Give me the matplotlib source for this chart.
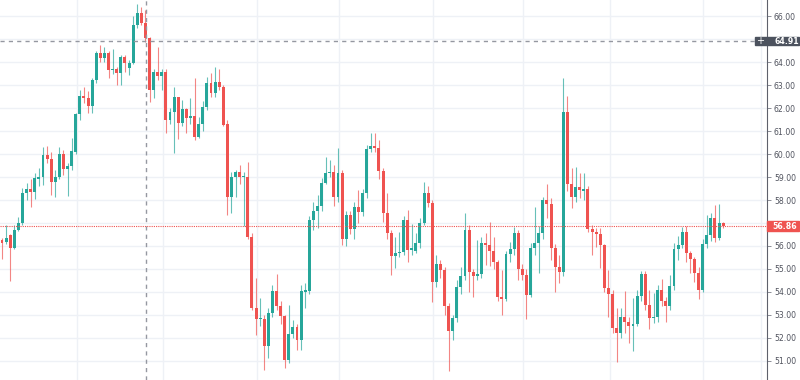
import matplotlib
matplotlib.use("Agg")
import matplotlib.pyplot as plt
from matplotlib.patches import Rectangle
import numpy as np

# OHLC values, one entry per candle (left to right)
opens = [56.26, 56.17, 56.46, 55.90, 56.70, 57.01, 58.29, 58.46, 58.33, 58.90,
         59.00, 59.96, 59.80, 58.80, 59.00, 59.99, 59.33, 59.48, 60.10, 61.72,
         62.52, 62.42, 62.09, 63.22, 64.41, 64.16, 64.41, 63.65, 63.72, 63.51,
         64.23, 63.75, 63.97, 65.61, 66.12, 65.71, 65.03, 62.78, 63.58, 63.39,
         63.58, 61.48, 61.84, 62.46, 61.36, 61.94, 61.55, 61.67, 60.72, 61.30,
         62.06, 63.10, 62.64, 63.14, 62.93, 61.30, 58.12, 58.99, 59.20, 58.99,
         59.02, 56.38, 53.32, 52.81, 52.81, 51.65, 53.07, 54.06, 53.39, 52.96,
         51.02, 52.17, 52.46, 51.89, 54.00, 54.06, 57.13, 57.54, 57.74, 58.72,
         59.16, 59.23, 58.12, 59.16, 56.29, 57.35, 56.72, 57.68, 57.49, 58.29,
         60.22, 60.36, 60.27, 59.28, 57.42, 56.55, 55.57, 55.68, 55.75, 57.13,
         55.83, 55.80, 56.12, 56.99, 58.29, 57.86, 54.45, 55.20, 54.96, 53.41,
         52.28, 52.86, 54.20, 54.71, 56.70, 54.88, 54.70, 54.77, 56.11, 56.05,
         55.80, 55.32, 53.80, 53.71, 55.65, 55.85, 56.58, 54.99, 54.74, 53.87,
         55.93, 56.12, 56.58, 58.00, 57.83, 55.90, 55.07, 54.85, 61.81, 58.70,
         58.14, 58.58, 58.40, 58.46, 56.72, 56.62, 56.51, 56.04, 54.16, 53.91,
         52.42, 52.23, 52.90, 52.71, 52.54, 52.60, 53.83, 54.78, 53.43, 52.85,
         52.90, 54.09, 53.62, 53.39, 54.26, 55.85, 56.03, 56.59, 55.71, 55.42,
         54.84, 54.09, 56.07, 56.48, 57.20, 56.36, 56.99]
highs = [56.35, 56.91, 56.50, 56.90, 57.28, 58.51, 58.72, 58.91, 59.16, 59.40,
         60.32, 60.36, 60.10, 59.30, 60.32, 60.17, 59.60, 60.68, 61.80, 62.78,
         62.90, 62.75, 63.30, 64.50, 64.74, 64.64, 64.50, 64.59, 63.80, 64.30,
         64.30, 64.10, 66.00, 66.52, 66.41, 66.26, 65.10, 63.70, 64.67, 63.70,
         63.70, 62.00, 62.90, 62.50, 62.35, 62.00, 62.42, 63.29, 61.60, 62.30,
         63.36, 63.54, 63.80, 63.72, 63.00, 61.50, 59.20, 59.30, 59.52, 59.20,
         59.67, 56.58, 54.59, 53.73, 53.00, 53.30, 54.30, 54.77, 53.60, 53.00,
         53.44, 52.80, 52.60, 54.30, 54.40, 57.30, 57.93, 58.22, 58.94, 59.85,
         59.74, 59.52, 60.25, 59.30, 57.50, 57.50, 57.90, 58.43, 58.50, 60.39,
         60.90, 60.90, 60.61, 59.40, 58.29, 56.70, 56.41, 56.62, 57.30, 57.57,
         56.96, 56.55, 57.20, 58.80, 58.61, 58.00, 55.61, 55.39, 55.10, 53.50,
         53.00, 54.52, 55.10, 57.42, 56.90, 55.00, 56.26, 56.41, 56.55, 57.06,
         56.41, 55.40, 54.96, 55.80, 56.19, 56.84, 56.70, 55.22, 55.00, 56.12,
         57.71, 56.87, 58.12, 58.69, 58.10, 56.10, 55.61, 63.29, 62.52, 59.38,
         59.45, 59.16, 59.16, 58.60, 56.90, 56.80, 56.77, 56.10, 54.96, 54.09,
         53.29, 53.29, 54.02, 52.90, 53.72, 54.10, 54.93, 54.93, 54.09, 53.94,
         54.30, 54.55, 53.80, 54.74, 56.12, 56.44, 56.84, 56.87, 55.80, 55.50,
         55.10, 56.29, 57.35, 57.42, 57.78, 57.83, 57.06]
lows = [55.42, 56.10, 54.48, 55.85, 56.65, 56.90, 58.00, 57.71, 58.03, 58.60,
        58.65, 59.60, 58.22, 58.14, 58.90, 59.10, 58.17, 59.30, 60.00, 61.50,
        62.20, 61.80, 61.80, 63.07, 64.00, 64.00, 63.29, 63.50, 63.00, 63.00,
        63.58, 63.43, 63.90, 65.50, 65.60, 64.88, 62.28, 62.43, 63.20, 62.78,
        60.93, 61.30, 60.03, 60.64, 61.20, 60.90, 61.30, 60.60, 60.68, 61.00,
        61.90, 62.50, 62.46, 62.80, 61.20, 57.35, 57.45, 58.14, 58.70, 56.87,
        56.30, 53.20, 52.13, 52.50, 50.61, 51.12, 52.90, 53.20, 52.60, 50.68,
        50.90, 52.00, 51.48, 51.48, 53.29, 53.90, 56.70, 56.77, 57.50, 58.70,
        59.00, 57.74, 57.90, 56.04, 56.01, 56.50, 56.29, 57.00, 57.30, 58.10,
        60.10, 60.10, 58.90, 57.06, 56.30, 54.74, 55.03, 55.50, 55.60, 55.32,
        55.60, 55.68, 55.90, 56.90, 57.70, 53.58, 54.20, 54.60, 53.00, 50.54,
        51.91, 52.70, 53.90, 54.50, 54.01, 53.80, 54.50, 54.60, 55.17, 55.13,
        55.00, 53.60, 53.00, 53.60, 55.32, 55.60, 54.52, 54.50, 52.81, 53.80,
        55.60, 54.81, 56.30, 57.20, 55.39, 54.00, 54.41, 54.70, 58.40, 57.64,
        57.93, 58.10, 58.00, 56.60, 55.61, 55.97, 55.03, 54.00, 52.93, 52.20,
        50.97, 51.98, 52.20, 51.80, 51.41, 52.50, 53.60, 53.20, 52.38, 52.64,
        52.70, 53.40, 52.71, 53.20, 54.10, 55.39, 55.90, 55.30, 54.81, 54.45,
        53.68, 54.00, 55.90, 56.20, 56.19, 56.26, 56.80]
closes = [56.14, 56.35, 55.90, 56.70, 57.01, 58.29, 58.46, 58.33, 58.94, 59.00,
          59.96, 59.80, 58.80, 59.00, 59.99, 59.33, 59.48, 60.14, 61.72, 62.52,
          62.42, 62.09, 63.22, 64.41, 64.16, 64.41, 63.65, 63.72, 63.51, 64.23,
          63.94, 63.97, 65.61, 66.12, 65.71, 65.03, 62.78, 63.58, 63.39, 63.58,
          61.48, 61.84, 62.46, 61.36, 61.94, 61.55, 61.67, 60.72, 61.30, 62.06,
          63.10, 62.64, 63.14, 62.93, 61.26, 58.12, 58.99, 59.20, 58.99, 59.06,
          56.38, 53.32, 52.81, 52.85, 51.65, 53.07, 54.06, 53.39, 52.96, 51.02,
          52.17, 52.46, 51.89, 54.04, 54.09, 57.13, 57.54, 57.74, 58.72, 59.16,
          59.23, 58.12, 59.16, 56.29, 57.35, 56.72, 57.68, 57.49, 58.29, 60.22,
          60.36, 60.27, 59.28, 57.42, 56.55, 55.57, 55.68, 55.75, 57.13, 55.83,
          55.90, 56.12, 56.99, 58.29, 57.86, 54.45, 55.20, 54.96, 53.41, 52.28,
          52.86, 54.20, 54.71, 56.70, 54.88, 54.70, 54.77, 56.11, 56.05, 55.80,
          55.32, 53.80, 53.71, 55.65, 55.85, 56.58, 54.99, 54.74, 53.87, 55.93,
          56.12, 56.58, 58.00, 57.83, 55.90, 55.07, 54.85, 61.81, 58.70, 58.14,
          58.58, 58.44, 58.46, 56.72, 56.62, 56.51, 56.04, 54.16, 53.91, 52.42,
          52.23, 52.90, 52.71, 52.54, 52.60, 53.83, 54.78, 53.43, 52.85, 52.90,
          54.09, 53.62, 53.39, 54.26, 55.85, 56.03, 56.59, 55.71, 55.42, 54.84,
          54.09, 56.07, 56.48, 57.20, 56.36, 56.99, 56.86]

price_ticks = [51, 52, 53, 54, 55, 56, 57, 58, 59, 60, 61, 62, 63, 64, 65, 66]
time_grid = [18.2, 39.2, 62.3, 82.3, 105.2, 127.2, 148.3, 171.2, 185.3]
crosshair_x = 35.1
crosshair_price = 64.91
last_price = closes[-1]

UP = '#26a69a'
DOWN = '#ef5350'
GRID = '#eef1f6'
TEXT = '#50535e'
Y_MIN, Y_MAX = 50.17, 66.70


def main():
    fig = plt.figure(figsize=(8, 3.8), dpi=100)
    ax = fig.add_axes([0, 0, 767 / 800, 1])

    o = np.array(opens)
    h = np.array(highs)
    l = np.array(lows)
    c = np.array(closes)
    x = np.arange(len(o))
    colors = np.where(c >= o, UP, DOWN)

    # grid
    for p in price_ticks:
        ax.axhline(p, color=GRID, lw=1.0, zorder=0)
    for t in time_grid:
        ax.axvline(t, color=GRID, lw=1.0, zorder=0)

    # wicks and bodies
    ax.vlines(x, l, h, colors=colors, lw=0.8, alpha=0.7, zorder=2)
    bottoms = np.minimum(o, c)
    heights = np.maximum(np.abs(c - o), 0.05)
    ax.bar(x, heights, bottom=bottoms, width=0.72, color=colors,
           edgecolor='none', zorder=3)

    # crosshair
    ax.axhline(crosshair_price, color='#9598a1', lw=1.0, ls=(0, (3, 3)), zorder=4)
    ax.axvline(crosshair_x, color='#9598a1', lw=1.0, ls=(0, (3, 3)), zorder=4)

    # last price line
    ax.axhline(last_price, color=DOWN, lw=0.8, ls=(0, (1, 1)), zorder=4)

    ax.set_xlim(-0.49, 186.7)
    ax.set_ylim(Y_MIN, Y_MAX)

    # labels hidden behind the crosshair / last price boxes are left blank
    hidden = {round(crosshair_price), round(last_price)}
    ax.yaxis.tick_right()
    ax.set_yticks(price_ticks)
    ax.set_yticklabels(["" if p in hidden else f"{p:.2f}" for p in price_ticks])
    ax.tick_params(axis='y', length=3, width=0.6, color='#787b86',
                   labelsize=5.6, labelcolor=TEXT, pad=2)
    ax.set_xticks([])
    for side in ['top', 'left', 'bottom']:
        ax.spines[side].set_visible(False)
    ax.spines['right'].set_color('#5d606b')
    ax.spines['right'].set_linewidth(0.8)

    # price labels on the scale
    def fig_y(price):
        return (price - Y_MIN) / (Y_MAX - Y_MIN)

    y_cross = fig_y(crosshair_price)
    fig.patches.append(Rectangle((755 / 800, y_cross - 4.3 / 380), 44 / 800, 8.6 / 380,
                                 transform=fig.transFigure, color='#4c525e', zorder=10))
    fig.text(760.5 / 800, y_cross, '+', color='white', fontsize=7,
             ha='center', va='center', zorder=11)
    fig.text(787 / 800, y_cross, f"{crosshair_price:.2f}", color='white',
             fontsize=5.6, fontweight='bold', ha='center', va='center', zorder=11)

    y_last = fig_y(last_price)
    fig.patches.append(Rectangle((767 / 800, y_last - 5 / 380), 32 / 800, 10 / 380,
                                 transform=fig.transFigure, color=DOWN, zorder=10))
    fig.text(785 / 800, y_last, f"{last_price:.2f}", color='white',
             fontsize=5.6, fontweight='bold', ha='center', va='center', zorder=11)

    fig.savefig('out.png', dpi=100)


if __name__ == "__main__":
    main()
